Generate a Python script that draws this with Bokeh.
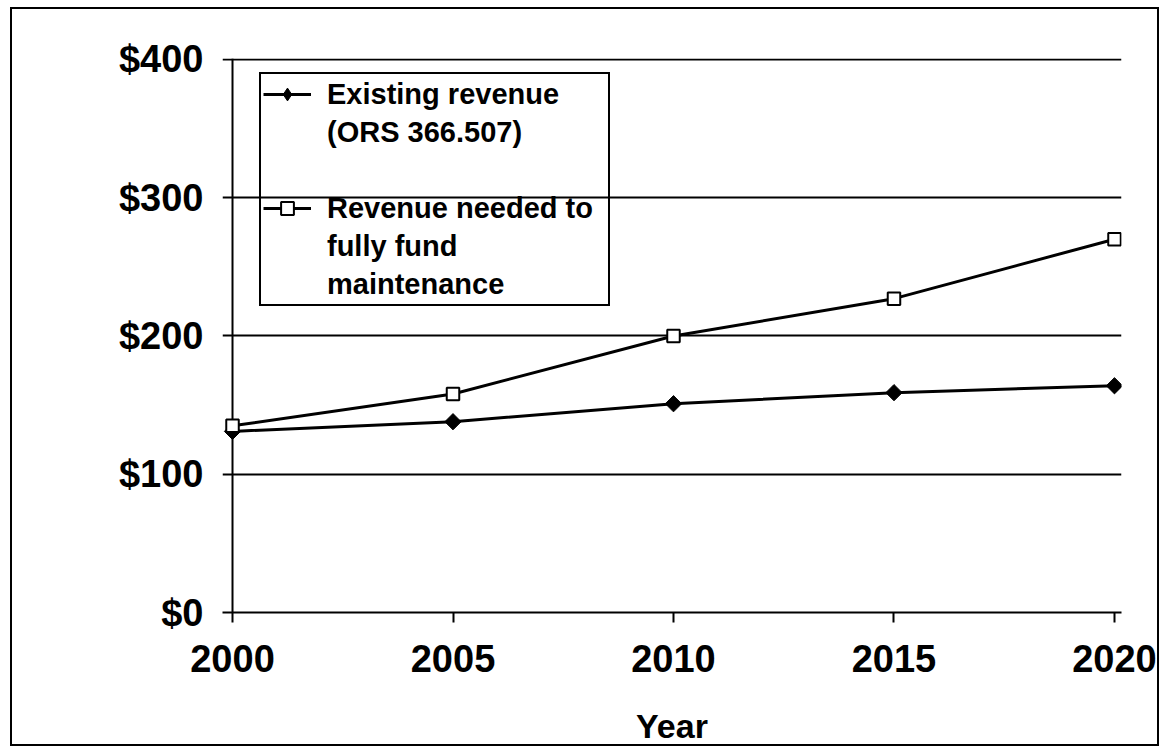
import math
from bokeh.plotting import figure
from bokeh.models import Range1d, FixedTicker, Legend, LegendItem, Span
from bokeh.embed import file_html
from bokeh.resources import INLINE

# ---- data ----
years = [2000, 2005, 2010, 2015, 2020]
existing_revenue = [131, 138, 151, 159, 164]
needed_revenue = [135, 158, 200, 227, 270]
y_ticks = [0, 100, 200, 300, 400]
y_tick_labels = ["$0", "$100", "$200", "$300", "$400"]
x_ticks = [2000, 2005, 2010, 2015, 2020]
x_tick_labels = ["2000", "2005", "2010", "2015", "2020"]
existing_label_lines = ["Existing revenue", "(ORS 366.507)"]
needed_label_lines = ["Revenue needed to", "fully fund", "maintenance"]
x_title = "Year"

FONT = "Liberation Sans"

p = figure(width=1149, height=739, output_backend="svg", toolbar_location=None,
           x_range=Range1d(1999.773, 2020.159), y_range=Range1d(0, 400.7),
           min_border_left=210, min_border_right=40, min_border_top=49,
           min_border_bottom=136)
p.styles = {"border": "2px solid black", "margin": "7px 0 0 10px"}
p.outline_line_color = None
p.background_fill_color = "white"
p.border_fill_color = "white"

p.xgrid.visible = False
p.ygrid.grid_line_color = "black"
p.ygrid.grid_line_width = 2

# axes
p.yaxis.ticker = FixedTicker(ticks=y_ticks)
p.yaxis.major_label_overrides = {t: l for t, l in zip(y_ticks, y_tick_labels)}
p.xaxis.ticker = FixedTicker(ticks=x_ticks)
p.xaxis.major_label_overrides = {t: l for t, l in zip(x_ticks, x_tick_labels)}
for ax in (p.xaxis, p.yaxis):
    ax.axis_line_color = "black"
    ax.axis_line_width = 2
    ax.major_tick_line_color = "black"
    ax.major_tick_line_width = 2
    ax.major_tick_in = 0
    ax.major_tick_out = 10
    ax.minor_tick_line_color = None
    ax.major_label_text_font = FONT
    ax.major_label_text_font_style = "bold"
    ax.major_label_text_font_size = "38px"
    ax.major_label_text_color = "black"
# value axis line sits at the first year; gridlines give the outer tick stubs
p.yaxis.axis_line_color = None
p.yaxis.major_tick_line_color = None
p.yaxis.major_tick_out = 0
p.yaxis.major_label_standoff = 19
p.xaxis.major_label_standoff = 22
p.xaxis.axis_label = x_title
p.xaxis.axis_label_text_font = FONT
p.xaxis.axis_label_text_font_style = "bold"
p.xaxis.axis_label_text_font_size = "34px"
p.xaxis.axis_label_text_color = "black"
p.xaxis.axis_label_standoff = 32

y_axis_line = Span(location=years[0], dimension="height", line_color="black",
                   line_width=2, level="underlay")
p.add_layout(y_axis_line)

# series
l1 = p.line(years, existing_revenue, line_color="black", line_width=3)
s1 = p.scatter(years, existing_revenue, marker="square", angle=math.pi / 4,
               size=11.5, fill_color="black", line_color="black", line_width=1)
l2 = p.line(years, needed_revenue, line_color="black", line_width=3)
s2 = p.scatter(years, needed_revenue, marker="square", size=12.5,
               fill_color="white", line_color="black", line_width=2)
# key-only symbol (draws nothing in the plot area)
s1_key = p.scatter(x=[float("nan")], y=[float("nan")], marker="diamond",
                   fill_color="black", line_color="black", line_width=1)

items = [
    LegendItem(label=existing_label_lines[0], renderers=[l1, s1_key]),
    LegendItem(label=existing_label_lines[1], renderers=[]),
    LegendItem(label=" ", renderers=[]),
    LegendItem(label=needed_label_lines[0], renderers=[l2, s2]),
    LegendItem(label=needed_label_lines[1], renderers=[]),
    LegendItem(label=needed_label_lines[2], renderers=[]),
]
legend = Legend(items=items, location=(37, 306))
legend.border_line_color = "black"
legend.border_line_alpha = 1.0
legend.border_line_width = 2
legend.background_fill_alpha = 0
legend.padding = 2
legend.spacing = 2
legend.glyph_width = 48
legend.glyph_height = 32
legend.label_height = 36
legend.label_width = 279
legend.label_standoff = 16
legend.label_text_font = FONT
legend.label_text_font_style = "bold"
legend.label_text_font_size = "29px"
legend.label_text_color = "black"
p.add_layout(legend)

open("out.html", "w").write(file_html(p, INLINE))
